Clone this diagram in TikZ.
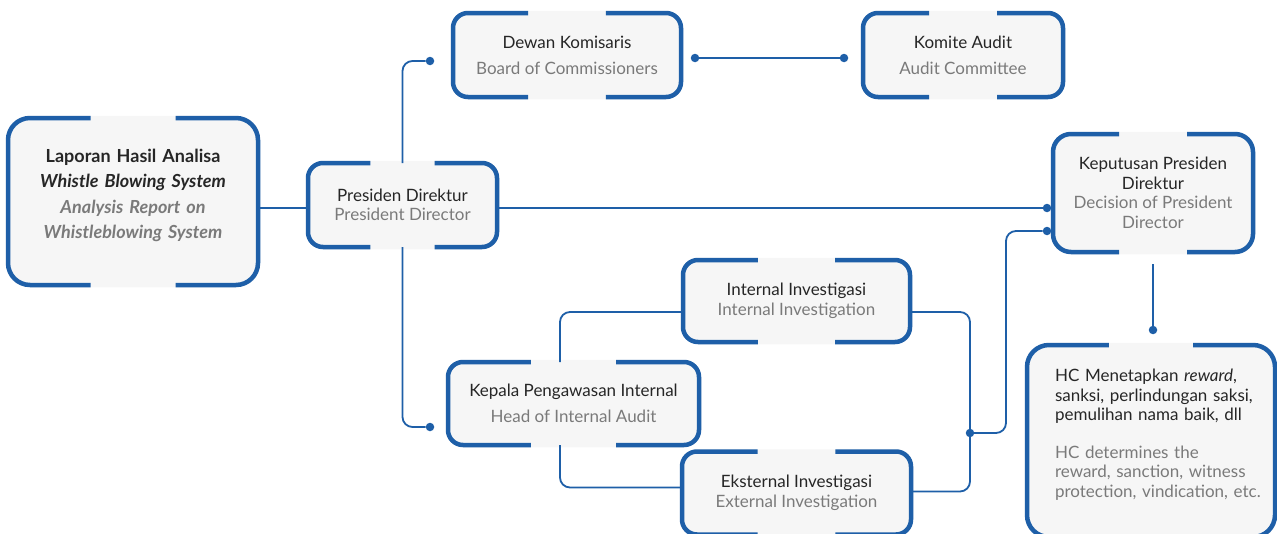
\documentclass[tikz,border=0pt]{standalone}
\usepackage{fontspec}
\setmainfont{Lato}
\usetikzlibrary{calc}

\definecolor{orgblue}{HTML}{1E5FA8}
\definecolor{boxfill}{HTML}{F6F6F6}
\definecolor{txtdark}{HTML}{262626}
\definecolor{txtgray}{HTML}{7A7A7A}

\newcommand{\entxt}[1]{\textcolor{txtgray}{#1}}

\tikzset{
	box/.style={rectangle, rounded corners=#1, fill=boxfill, draw=boxfill, line width=4.5pt, outer sep=0pt, inner sep=0pt, align=center, text=txtdark, font=\fontsize{17}{19.5}\selectfont},
	box/.default=15pt,
	loose/.style={font=\fontsize{17}{26}\selectfont},
	frame/.style={draw=orgblue, line width=4.5pt, rounded corners=#1},
	frame/.default=15pt,
	link/.style={draw=orgblue, line width=1.8pt, rounded corners=10pt},
	dot/.style={circle, fill=orgblue, inner sep=0pt, minimum size=8.5pt},
}

\begin{document}
\begin{tikzpicture}[x=1pt, y=-1pt]
	\useasboundingbox (0,0) rectangle (1277,533);

	% boxes
	\node[box=22pt, minimum width=250pt, minimum height=167pt, text width=240pt, font=\fontsize{18}{25.3}\selectfont\bfseries](report) at (133,201.5){Laporan Hasil Analisa\\\textit{Whistle Blowing System}\\\entxt{\textit{Analysis Report on}}\\\entxt{\textit{Whistleblowing System}}\\[-10pt]\mbox{}};
	\node[box, minimum width=189pt, minimum height=84pt](pres) at (402.5,205){Presiden Direktur\\\entxt{President Director}};
	\node[box, loose, minimum width=228pt, minimum height=84pt](dewan) at (567,55){Dewan Komisaris\\\entxt{Board of Commissioners}};
	\node[box, loose, minimum width=200pt, minimum height=84pt, right of=dewan, node distance=396pt](komite){Komite Audit\\\entxt{Audit Committee}};
	\node[box=18pt, minimum width=200pt, minimum height=118pt](kep) at (1153,193){Keputusan Presiden\\Direktur\\\entxt{Decision of President}\\\entxt{Director}};
	\node[box=22pt, minimum width=248pt, minimum height=192pt, text width=230pt, align=left](hc) at (1151,441){\leftskip=19pt\relax HC Menetapkan \textit{reward},\\sanksi, perlindungan saksi,\\pemulihan nama baik, dll\\[18pt]\entxt{HC determines the}\\\entxt{reward, sanction, witness}\\\entxt{protection, vindication, etc.}\\[-3.5pt]\mbox{}};
	\node[box, loose, minimum width=251pt, minimum height=83pt](kepala) at (573.5,403.5){Kepala Pengawasan Internal\\\entxt{Head of Internal Audit}};
	\node[box, minimum width=227pt, minimum height=82pt](internal) at (796.5,301){Internal Investigasi\\\entxt{Internal Investigation}};
	\node[box, minimum width=229pt, minimum height=83pt, below of=internal, node distance=192pt](eksternal){Eksternal Investigasi\\\entxt{External Investigation}};

	% open frames, gap in the middle of top and bottom
	\foreach \n/\r in {report/22pt, pres/15pt, dewan/15pt, komite/15pt, kep/18pt, hc/22pt, kepala/15pt, internal/15pt, eksternal/15pt}{
		\draw[frame=\r] ($(\n.north west)!.33!(\n.north east)$) -- (\n.north west) -- (\n.south west) -- ($(\n.south west)!.33!(\n.south east)$);
		\draw[frame=\r] ($(\n.north east)!.33!(\n.north west)$) -- (\n.north east) -- (\n.south east) -- ($(\n.south east)!.33!(\n.south west)$);
	}

	% end points
	\node[dot](dpres1) at (430,61){};
	\node[dot](dpres2) at (430,427){};
	\node[dot](ddewan) at (695,58){};
	\node[dot](dkomite) at (844,58){};
	\node[dot](dkep1) at (1047,208){};
	\node[dot](dkep2) at (1047,231){};
	\node[dot](dhc) at (1153,330){};
	\node[dot](dinv) at (970,433){};
	\coordinate(bend) at (1006,433);

	% connectors
	\draw[link] (report.east |- dkep1) -- (pres.west |- dkep1);
	\draw[link] (pres.east |- dkep1) -- (dkep1);
	\draw[link] (pres.north) |- (dpres1);
	\draw[link] (pres.south) |- (dpres2);
	\draw[link] (ddewan) -- (dkomite);
	\draw[link] ([xshift=-13.5pt]kepala.north) |- ([yshift=-11pt]internal.west);
	\draw[link] ([xshift=-13.5pt]kepala.south) |- ([yshift=5.5pt]eksternal.west);
	\draw[link] ([yshift=-11pt]internal.east) -| (dinv.center) |- ([yshift=1.5pt]eksternal.east);
	\draw[link] (dinv.center) -- (bend) |- (dkep2);
	\draw[link] ([yshift=-12pt]kep.south) -- (dhc);
\end{tikzpicture}
\end{document}
